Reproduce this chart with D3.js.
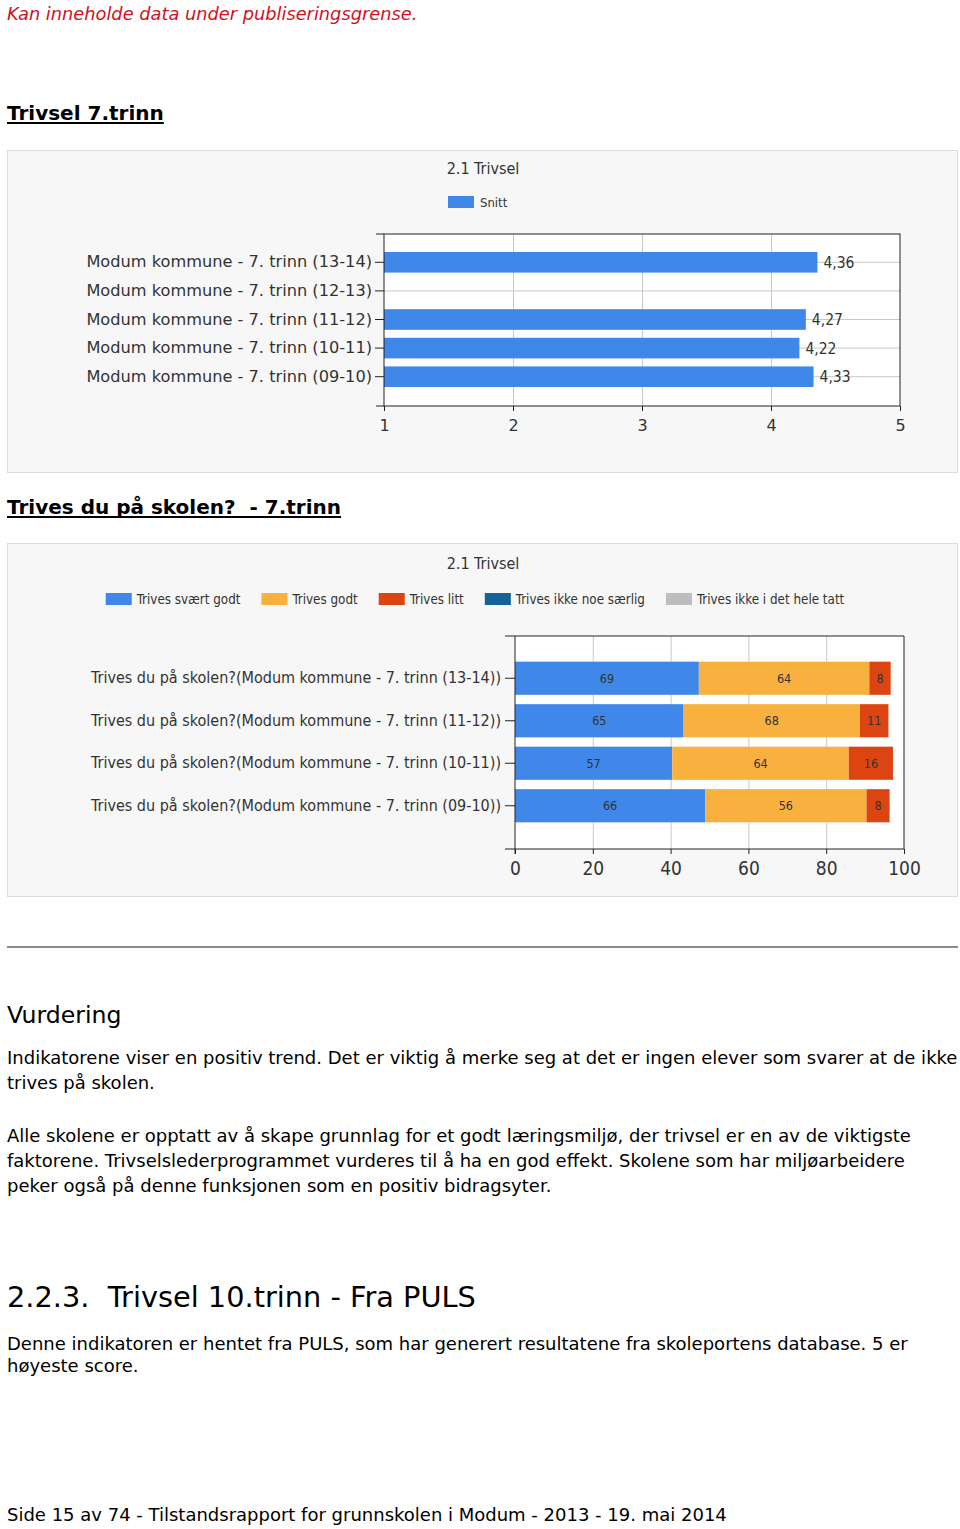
<!DOCTYPE html>
<html>
<head>
<meta charset="utf-8">
<script src="https://cdn.jsdelivr.net/npm/d3@7"></script>
<style>
  body { margin: 0; background: #fff; }
  svg { display: block; }
  .page { font-family: "DejaVu Sans", Verdana, sans-serif; fill: #000; }
  .chart text { font-family: "DejaVu Sans", Tahoma, sans-serif; fill: #333; }
  .cond { font-family: "DejaVu Sans Condensed", "DejaVu Sans", sans-serif !important; }
  .domain { display: none; }
</style>
</head>
<body>
<div id="page"></div>
<script>
// chart 1: 2.1 Trivsel, snitt
const snittCategories = [
  "Modum kommune - 7. trinn (13-14)",
  "Modum kommune - 7. trinn (12-13)",
  "Modum kommune - 7. trinn (11-12)",
  "Modum kommune - 7. trinn (10-11)",
  "Modum kommune - 7. trinn (09-10)"
];
const snittValues = [4.36, null, 4.27, 4.22, 4.33];
const snittTicks = [1, 2, 3, 4, 5];

// chart 2: Trives du på skolen? (counts, bars in % of respondents)
const skoleCategories = [
  "Trives du på skolen?(Modum kommune - 7. trinn (13-14))",
  "Trives du på skolen?(Modum kommune - 7. trinn (11-12))",
  "Trives du på skolen?(Modum kommune - 7. trinn (10-11))",
  "Trives du på skolen?(Modum kommune - 7. trinn (09-10))"
];
const seriesNames = ["Trives svært godt", "Trives godt", "Trives litt", "Trives ikke noe særlig", "Trives ikke i det hele tatt"];
const seriesColors = ["#3f87e8", "#f8b03f", "#dc4512", "#136399", "#bdbdbd"];
const sværtGodt = [69, 65, 57, 66];
const godt = [64, 68, 64, 56];
const litt = [8, 11, 16, 8];
const ikkeSærlig = [null, null, null, null];     // under publiseringsgrense
const ikkeHeleTatt = [null, null, null, null];
const antallSvar = [146, 150, 141, 135];
const prosentTicks = [0, 20, 40, 60, 80, 100];

const svg = d3.select("#page").append("svg")
  .attr("width", 960)
  .attr("height", 1529);

//page text
const page = svg.append("g").attr("class", "page");
page.append("text").attr("x", 7).attr("y", 20)
  .style("font-size", "17.8px").style("font-style", "italic").style("fill", "#d0111d")
  .text("Kan inneholde data under publiseringsgrense.");

const heading = function (y, txt) {
  const t = page.append("text").attr("x", 7).attr("y", y)
    .style("font-size", "20px").style("font-weight", "bold").text(txt);
  const w = t.node().getComputedTextLength();
  page.append("line").attr("x1", 7).attr("x2", 7 + w).attr("y1", y + 3).attr("y2", y + 3)
    .attr("stroke", "#000").attr("stroke-width", 2);
};
heading(120, "Trivsel 7.trinn");
heading(514, "Trives du på skolen?\u00a0\u00a0- 7.trinn");

page.append("line").attr("x1", 7).attr("x2", 958).attr("y1", 947).attr("y2", 947)
  .attr("stroke", "#8a8a8a").attr("stroke-width", 2);

page.append("text").attr("x", 7).attr("y", 1023).style("font-size", "23.6px").text("Vurdering");

const lines = [
  [1064, "Indikatorene viser en positiv trend. Det er viktig å merke seg at det er ingen elever som svarer at de ikke"],
  [1089, "trives på skolen."],
  [1142, "Alle skolene er opptatt av å skape grunnlag for et godt læringsmiljø, der trivsel er en av de viktigste"],
  [1167, "faktorene. Trivselslederprogrammet vurderes til å ha en god effekt. Skolene som har miljøarbeidere"],
  [1192, "peker også på denne funksjonen som en positiv bidragsyter."],
  [1350, "Denne indikatoren er hentet fra PULS, som har generert resultatene fra skoleportens database. 5 er"],
  [1372, "høyeste score."],
  [1521, "Side 15 av 74 - Tilstandsrapport for grunnskolen i Modum - 2013 - 19. mai 2014"]
];
page.selectAll("text.body").data(lines).enter().append("text")
  .attr("class", "body").attr("x", 7).attr("y", (d) => d[0])
  .style("font-size", "18px").text((d) => d[1]);

page.append("text").attr("x", 7).attr("y", 1307).style("font-size", "28.8px")
  .text("2.2.3.\u00a0\u00a0Trivsel 10.trinn - Fra PULS");

//panel helper
const panel = function (y0, h) {
  const g = svg.append("g").attr("class", "chart");
  g.append("rect").attr("x", 7.5).attr("y", y0 + 0.5).attr("width", 950).attr("height", h)
    .attr("fill", "#f7f7f7").attr("stroke", "#dcdcdc");
  return g;
};

// ---------- chart 1 ----------
const g1 = panel(150, 322);
const x1 = d3.scaleLinear().domain([1, 5]).range([384, 900]);
const y1 = d3.scaleBand().domain(snittCategories).range([248, 391]).paddingInner(0.28).paddingOuter(0.14);
const top1 = 234, bot1 = 406;

g1.append("rect").attr("x", 384).attr("y", top1).attr("width", 516).attr("height", bot1 - top1).attr("fill", "#fff");
// grid
g1.append("g").attr("transform", `translate(0,${bot1})`)
  .call(d3.axisBottom(x1).tickValues([2, 3, 4]).tickSize(-(bot1 - top1)).tickFormat(""))
  .selectAll("line").attr("stroke", "#c8c8c8");
g1.append("g").attr("transform", "translate(900,0)")
  .call(d3.axisLeft(y1).tickSize(516).tickFormat(""))
  .selectAll("line").attr("stroke", "#c8c8c8");

g1.selectAll("rect.bar").data(snittValues.map((v, i) => ({ v: v, c: snittCategories[i] })).filter((d) => d.v != null))
  .enter().append("rect").attr("class", "bar")
  .attr("x", x1(1)).attr("y", (d) => y1(d.c))
  .attr("width", (d) => x1(d.v) - x1(1)).attr("height", y1.bandwidth())
  .attr("fill", seriesColors[0]);

g1.selectAll("text.val").data(snittValues.map((v, i) => ({ v: v, c: snittCategories[i] })).filter((d) => d.v != null))
  .enter().append("text").attr("class", "val cond")
  .attr("x", (d) => x1(d.v) + 6).attr("y", (d) => y1(d.c) + y1.bandwidth() / 2)
  .attr("dy", "0.35em").style("font-size", "15.5px")
  .text((d) => d3.format(".2f")(d.v).replace(".", ","));

// frame + axes
g1.append("rect").attr("x", 384).attr("y", top1).attr("width", 516).attr("height", bot1 - top1)
  .attr("fill", "none").attr("stroke", "#222");
const ax1 = g1.append("g").attr("transform", `translate(0,${bot1})`)
  .call(d3.axisBottom(x1).tickValues(snittTicks).tickSize(5).tickFormat(d3.format("d")));
ax1.selectAll("text").style("font-size", "16px").attr("dy", "1.05em");
ax1.selectAll("line").attr("stroke", "#222");
const ay1 = g1.append("g").attr("transform", "translate(384,0)")
  .call(d3.axisLeft(y1).tickSize(9).tickPadding(3));
ay1.selectAll("text").style("font-size", "16.2px");
ay1.selectAll("line").attr("stroke", "#222");
g1.append("line").attr("x1", 376).attr("x2", 384).attr("y1", top1).attr("y2", top1).attr("stroke", "#222");
g1.append("line").attr("x1", 376).attr("x2", 384).attr("y1", bot1).attr("y2", bot1).attr("stroke", "#222");

g1.append("text").attr("class", "cond").attr("x", 483).attr("y", 168).attr("dy", "0.35em")
  .attr("text-anchor", "middle").style("font-size", "16px").text("2.1 Trivsel");
g1.append("rect").attr("x", 448).attr("y", 196).attr("width", 26).attr("height", 12).attr("fill", seriesColors[0]);
g1.append("text").attr("class", "cond").attr("x", 480).attr("y", 202).attr("dy", "0.35em")
  .style("font-size", "13px").text("Snitt");

// ---------- chart 2 ----------
const g2 = panel(543, 353);
const x2 = d3.scaleLinear().domain([0, 100]).range([515, 904]);
const y2 = d3.scaleBand().domain(skoleCategories).range([657, 827]).paddingInner(0.22).paddingOuter(0.11);
const top2 = 636, bot2 = 849;

const table = skoleCategories.map((c, i) => {
  const row = { kategori: c };
  [sværtGodt, godt, litt, ikkeSærlig, ikkeHeleTatt].forEach((s, k) => {
    row[seriesNames[k]] = s[i] == null ? 0 : (s[i] / antallSvar[i]) * 100;
    row["n" + k] = s[i];
  });
  return row;
});
const stacked = d3.stack().keys(seriesNames)(table);

g2.append("rect").attr("x", 515).attr("y", top2).attr("width", 389).attr("height", bot2 - top2).attr("fill", "#fff");
g2.append("g").attr("transform", `translate(0,${bot2})`)
  .call(d3.axisBottom(x2).tickValues([20, 40, 60, 80]).tickSize(-(bot2 - top2)).tickFormat(""))
  .selectAll("line").attr("stroke", "#c8c8c8");

const layer = g2.selectAll("g.layer").data(stacked).enter().append("g").attr("class", "layer")
  .attr("fill", (d, i) => seriesColors[i]);
layer.selectAll("rect").data((d) => d).enter().append("rect")
  .attr("x", (d) => x2(d[0])).attr("y", (d) => y2(d.data.kategori))
  .attr("width", (d) => x2(d[1]) - x2(d[0])).attr("height", y2.bandwidth());
layer.selectAll("text").data((d, k) => d.map((p) => ({ p: p, n: p.data["n" + k] })).filter((e) => e.n != null))
  .enter().append("text").attr("class", "cond")
  .attr("x", (e) => (x2(e.p[0]) + x2(e.p[1])) / 2).attr("y", (e) => y2(e.p.data.kategori) + y2.bandwidth() / 2)
  .attr("dy", "0.35em").attr("text-anchor", "middle")
  .style("font-size", "12.5px").style("fill", "#333")
  .text((e) => e.n);

g2.append("line").attr("x1", 904).attr("x2", 904).attr("y1", top2).attr("y2", bot2).attr("stroke", "#222");
g2.append("line").attr("x1", 505).attr("x2", 904).attr("y1", top2).attr("y2", top2).attr("stroke", "#222");
const ax2 = g2.append("g").attr("transform", `translate(0,${bot2})`)
  .call(d3.axisBottom(x2).tickValues(prosentTicks).tickSize(5));
ax2.selectAll("text").attr("class", "cond").style("font-size", "19px").attr("dy", "0.95em");
ax2.selectAll("line").attr("stroke", "#222");
g2.append("line").attr("x1", 505).attr("x2", 904).attr("y1", bot2).attr("y2", bot2).attr("stroke", "#222");
const ay2 = g2.append("g").attr("transform", "translate(515,0)")
  .call(d3.axisLeft(y2).tickSize(10).tickPadding(4));
ay2.selectAll("text").attr("class", "cond").style("font-size", "16px");
ay2.selectAll("line").attr("stroke", "#222");
g2.append("line").attr("x1", 515).attr("x2", 515).attr("y1", top2).attr("y2", bot2 + 5).attr("stroke", "#222");

g2.append("text").attr("class", "cond").attr("x", 483).attr("y", 563).attr("dy", "0.35em")
  .attr("text-anchor", "middle").style("font-size", "16px").text("2.1 Trivsel");

// legend, laid out from measured text widths
const leg = g2.append("g");
const items = leg.selectAll("g").data(seriesNames).enter().append("g");
items.append("rect").attr("width", 26).attr("height", 12).attr("y", 593).attr("fill", (d, i) => seriesColors[i]);
items.append("text").attr("class", "cond").attr("x", 31).attr("y", 599).attr("dy", "0.35em")
  .style("font-size", "13.3px").text((d) => d);
let cx = 0;
const widths = [];
items.each(function () {
  widths.push(31 + this.querySelector("text").getComputedTextLength());
});
const total = d3.sum(widths) + 21 * (widths.length - 1);
cx = 475 - total / 2;
items.attr("transform", (d, i) => {
  const t = `translate(${cx},0)`;
  cx += widths[i] + 21;
  return t;
});
</script>
</body>
</html>
